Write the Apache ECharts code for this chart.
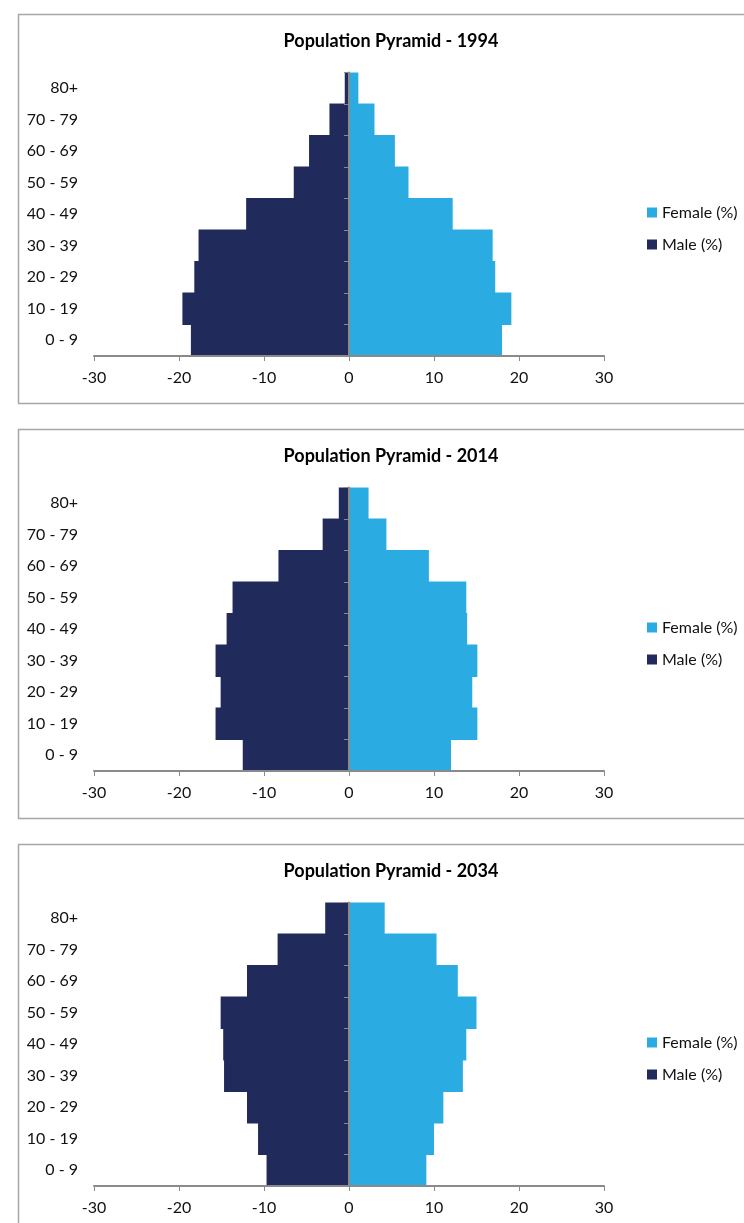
<!DOCTYPE html>
<html>
<head>
<meta charset="utf-8">
<title>Population Pyramids</title>
<script src="https://cdn.jsdelivr.net/npm/echarts@6/dist/echarts.min.js"></script>
<style>
  html, body { margin: 0; padding: 0; background: #ffffff; }
  #chart { width: 744px; height: 1223px; }
</style>
</head>
<body>
<div id="chart"></div>
<script>
// Age bands, bottom to top
var ageGroups = ['0 - 9', '10 - 19', '20 - 29', '30 - 39', '40 - 49', '50 - 59', '60 - 69', '70 - 79', '80+'];

// Share of population per age band (%); male shares are drawn to the left
var male1994   = [-18.6, -19.6, -18.2, -17.7, -12.1, -6.5, -4.7, -2.3, -0.5];
var female1994 = [18.0, 19.1, 17.2, 16.9, 12.2, 7.0, 5.4, 3.0, 1.1];

var male2014   = [-12.5, -15.7, -15.1, -15.7, -14.4, -13.7, -8.3, -3.1, -1.2];
var female2014 = [12.0, 15.1, 14.5, 15.1, 13.9, 13.8, 9.4, 4.4, 2.3];

var male2034   = [-9.7, -10.7, -12.0, -14.7, -14.8, -15.1, -12.0, -8.4, -2.8];
var female2034 = [9.1, 10.0, 11.1, 13.4, 13.8, 15.0, 12.8, 10.3, 4.2];

var years = ['1994', '2014', '2034'];
var maleSeries = [male1994, male2014, male2034];
var femaleSeries = [female1994, female2014, female2034];

var FONT = 'Lato, "Open Sans", sans-serif';
var MALE_COLOR = '#202A5B';
var FEMALE_COLOR = '#2AACE2';
var AXIS_COLOR = '#8A8A8A';
var TEXT_COLOR = '#111111';
var PANEL_STEP = 415;

var option = {
  backgroundColor: '#ffffff',
  animation: false,
  title: [], legend: [], grid: [], xAxis: [], yAxis: [], series: [], graphic: []
};

years.forEach(function (year, i) {
  var off = i * PANEL_STEP;

  // panel frame
  option.graphic.push({
    type: 'rect',
    left: 16, top: 12 + off,
    shape: { x: 0, y: 0, width: 760, height: 389 },
    style: { fill: 'none', stroke: '#A6A6A6', lineWidth: 1.5 },
    silent: true, z: -1
  });

  option.title.push({
    text: 'Population Pyramid - ' + year,
    left: 386, top: 27 + off, textAlign: 'center',
    textStyle: { fontFamily: FONT, fontSize: 18, fontWeight: 'bold', color: '#000000' }
  });

  option.legend.push({
    orient: 'vertical',
    left: 642, top: 198 + off,
    itemWidth: 10, itemHeight: 10, itemGap: 13,
    icon: 'rect',
    data: ['Female (%)', 'Male (%)'],
    textStyle: { fontFamily: FONT, fontSize: 16, color: TEXT_COLOR, lineHeight: 19 }
  });

  option.grid.push({ left: 94, width: 510, top: 72.5 + off, height: 283.5 });

  option.xAxis.push({
    type: 'value', gridIndex: i,
    min: -30, max: 30, interval: 10,
    z: 10,
    axisLine: { show: true, onZero: false, lineStyle: { color: AXIS_COLOR, width: 2 } },
    axisTick: { show: true, length: 5, lineStyle: { color: AXIS_COLOR, width: 1 } },
    splitLine: { show: false },
    axisLabel: { fontFamily: FONT, fontSize: 16, color: TEXT_COLOR, margin: 14 }
  });

  // age band labels on the left edge
  option.yAxis.push({
    type: 'category', gridIndex: i, data: ageGroups,
    position: 'left',
    axisLine: { show: false, onZero: false },
    axisTick: { show: false },
    splitLine: { show: false },
    axisLabel: { fontFamily: FONT, fontSize: 16, color: TEXT_COLOR, margin: 16 }
  });

  // centre line at zero with band ticks
  option.yAxis.push({
    type: 'category', gridIndex: i, data: ageGroups,
    position: 'left',
    z: 10,
    axisLine: { show: true, onZero: true, onZeroAxisIndex: i, lineStyle: { color: AXIS_COLOR, width: 2 } },
    axisTick: { show: true, length: 5, lineStyle: { color: AXIS_COLOR, width: 1 } },
    splitLine: { show: false },
    axisLabel: { show: false }
  });

  // slight overlap between neighbouring bands keeps the bars seamless
  option.series.push({
    name: 'Male (%)', type: 'bar',
    xAxisIndex: i, yAxisIndex: i * 2,
    data: maleSeries[i],
    barCategoryGap: '-3%', barGap: '-100%',
    itemStyle: { color: MALE_COLOR }
  });
  option.series.push({
    name: 'Female (%)', type: 'bar',
    xAxisIndex: i, yAxisIndex: i * 2,
    data: femaleSeries[i],
    barCategoryGap: '-3%', barGap: '-100%',
    itemStyle: { color: FEMALE_COLOR }
  });
});

var chart = echarts.init(document.getElementById('chart'), null, { renderer: 'canvas' });
chart.setOption(option);
</script>
</body>
</html>
